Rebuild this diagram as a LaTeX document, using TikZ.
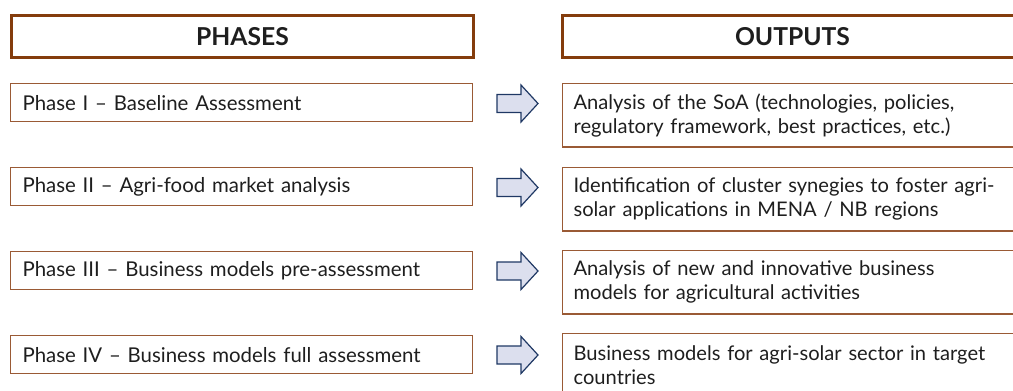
\documentclass[tikz,border=0pt]{standalone}
\usepackage{fontspec}
\setmainfont{Lato}
\definecolor{hdrbrown}{HTML}{843C0C}
\definecolor{boxbrown}{HTML}{9A5A35}
\definecolor{txt}{HTML}{1E1E1E}
\definecolor{arrfill}{HTML}{DCDFEE}
\definecolor{arrline}{HTML}{1F3864}
\tikzset{
  hdrbox/.style={draw=hdrbrown, line width=2.2pt, rectangle, anchor=north west,
    minimum height=31.5pt, inner sep=0pt, text=txt,
    font=\fontsize{18.5}{20}\selectfont\bfseries},
  phasebox/.style={draw=boxbrown, line width=0.9pt, rectangle, anchor=north west,
    minimum width=346.5pt, minimum height=28.5pt, inner xsep=9pt, inner ysep=0pt,
    text width=328.5pt, align=left, text=txt,
    font=\fontsize{15.3}{18}\selectfont},
  outbox/.style={draw=boxbrown, line width=0.9pt, rectangle, anchor=north west,
    minimum width=360pt, minimum height=47.5pt, inner xsep=8.25pt, inner ysep=0pt,
    text width=343.5pt, align=left, text=txt,
    font=\fontsize{15.1}{18}\selectfont},
  blockarrow/.pic={
    \draw[draw=arrline, fill=arrfill, line width=0.9pt]
      (0,-9) -- (24,-9) -- (24,-18.5) -- (41,0) -- (24,18.5) -- (24,9) -- (0,9) -- cycle;
  }
}
\begin{document}
\begin{tikzpicture}[x=0.75pt, y=-0.75pt]
\useasboundingbox (0,0) rectangle (1013,390);
\clip (0,0) rectangle (1013,390);
% headers
\node[hdrbox, minimum width=346.5pt] (hphases) at (10,14) {PHASES};
\node[hdrbox, minimum width=360pt] (houtputs) at (561,14) {\hspace*{-15pt}OUTPUTS};
% phases
\node[phasebox] (p1) at (10,83) {Phase I – Baseline Assessment};
\node[phasebox] (p2) at (10,167) {Phase II – Agri-food market analysis};
\node[phasebox] (p3) at (10,251) {Phase III – Business models pre-assessment};
\node[phasebox] (p4) at (10,335) {Phase IV – Business models full assessment};
% outputs
\node[outbox] (o1) at (562,83) {Analysis of the SoA (technologies, policies,\\regulatory framework, best practices, etc.)};
\node[outbox] (o2) at (562,167) {Identification of cluster synegies to foster agri-\\solar applications in MENA / NB regions};
\node[outbox] (o3) at (562,250) {Analysis of new and innovative business\\models for agricultural activities};
\node[outbox] (o4) at (562,333) {Business models for agri-solar sector in target\\countries};
% arrows
\pic at (497,103.5) {blockarrow};
\pic at (497,187.5) {blockarrow};
\pic at (497,271) {blockarrow};
\pic at (497,355) {blockarrow};
\end{tikzpicture}
\end{document}
